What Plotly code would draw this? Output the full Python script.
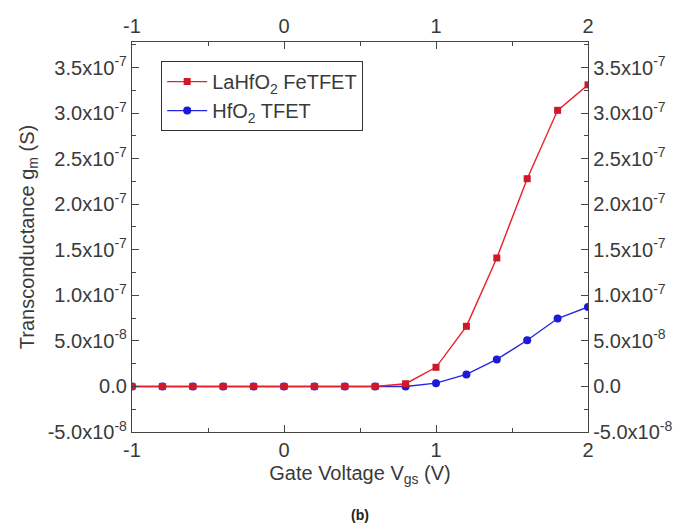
import plotly.graph_objects as go

vgs = [-1.0, -0.8, -0.6, -0.4, -0.2, 0.0, 0.2, 0.4, 0.6, 0.8, 1.0, 1.2, 1.4, 1.6, 1.8, 2.0]
gm_lahfo2 = [0, 0, 0, 0, 0, 0, 0, 0, 0, 0.3e-8, 2.1e-8, 6.6e-8, 1.41e-7, 2.28e-7, 3.03e-7, 3.31e-7]
gm_hfo2 = [0, 0, 0, 0, 0, 0, 0, 0, 0, 0.0, 0.36e-8, 1.32e-8, 2.97e-8, 5.07e-8, 7.45e-8, 8.73e-8]

x_ticks = [-1, 0, 1, 2]
x_ticklabels = ["-1", "0", "1", "2"]
y_ticks = [-5e-8, 0, 5e-8, 1e-7, 1.5e-7, 2e-7, 2.5e-7, 3e-7, 3.5e-7]
y_ticklabels = ["-5.0x10<sup>-8</sup>", "0.0", "5.0x10<sup>-8</sup>", "1.0x10<sup>-7</sup>",
                "1.5x10<sup>-7</sup>", "2.0x10<sup>-7</sup>", "2.5x10<sup>-7</sup>",
                "3.0x10<sup>-7</sup>", "3.5x10<sup>-7</sup>"]
x_minor = [-0.5, 0.5, 1.5]
y_minor = [-2.5e-8, 2.5e-8, 7.5e-8, 1.25e-7, 1.75e-7, 2.25e-7, 2.75e-7, 3.25e-7, 3.75e-7]

XR = [-1, 2]
YR = [-5e-8, 3.78e-7]
FONT = "Liberation Sans, Arial, sans-serif"
AX = "#444444"
TXT = "#3a3a3a"
FS = 20

fig = go.Figure()
fig.add_trace(go.Scatter(x=vgs, y=gm_hfo2, mode="lines+markers",
                         name="HfO<sub>2</sub> TFET",
                         line=dict(color="#2626e0", width=1.4),
                         marker=dict(symbol="circle", size=8, color="#1a1ad8")))
fig.add_trace(go.Scatter(x=vgs, y=gm_lahfo2, mode="lines+markers",
                         name="LaHfO<sub>2</sub> FeTFET",
                         line=dict(color="#e8202a", width=1.4),
                         marker=dict(symbol="square", size=7, color="#d0182a")))
fig.add_trace(go.Scatter(x=XR, y=YR, xaxis="x2", yaxis="y2", mode="markers",
                         marker=dict(opacity=0), showlegend=False, hoverinfo="skip"))

common = dict(showline=True, linecolor=AX, linewidth=1.3, ticks="inside", ticklen=7,
              tickcolor=AX, tickwidth=1.2, showgrid=False, zeroline=False, automargin=False,
              tickfont=dict(family=FONT, size=FS, color=TXT), tickmode="array")
minor = dict(ticks="inside", ticklen=4, tickcolor=AX, tickwidth=1.1)

fig.update_layout(
    width=682, height=522,
    margin=dict(l=124, r=102, t=34, b=98),
    paper_bgcolor="white", plot_bgcolor="white",
    font=dict(family=FONT, size=FS, color=TXT),
    xaxis=dict(range=XR, tickvals=x_ticks, ticktext=x_ticklabels,
               minor=dict(tickvals=x_minor, **minor),
               title=dict(text="Gate Voltage V<sub>gs</sub> (V)", standoff=5,
                          font=dict(family=FONT, size=FS, color=TXT)),
               **common),
    xaxis2=dict(range=XR, overlaying="x", side="top", tickvals=x_ticks, ticktext=x_ticklabels,
                minor=dict(tickvals=x_minor, **minor),
                **common),
    yaxis=dict(range=YR, tickvals=y_ticks, ticktext=y_ticklabels,
               minor=dict(tickvals=y_minor, **minor),
               title=dict(text="Transconductance g<sub>m</sub> (S)", standoff=7,
                          font=dict(family=FONT, size=FS, color=TXT)),
               **common),
    yaxis2=dict(range=YR, overlaying="y", side="right", tickvals=y_ticks, ticktext=y_ticklabels,
                minor=dict(tickvals=y_minor, **minor),
                **common),
    legend=dict(x=0.064, y=0.951, xanchor="left", yanchor="top",
                bordercolor="#333333", borderwidth=1, bgcolor="white",
                font=dict(family=FONT, size=FS, color=TXT),
                traceorder="reversed", itemwidth=40),
    showlegend=True,
    annotations=[dict(text="<b>(b)</b>", x=0.5, y=-0.213, xref="paper", yref="paper",
                      xanchor="center", yanchor="middle", showarrow=False,
                      font=dict(family=FONT, size=14, color="#222222"))],
)

fig.write_html("out.html")
